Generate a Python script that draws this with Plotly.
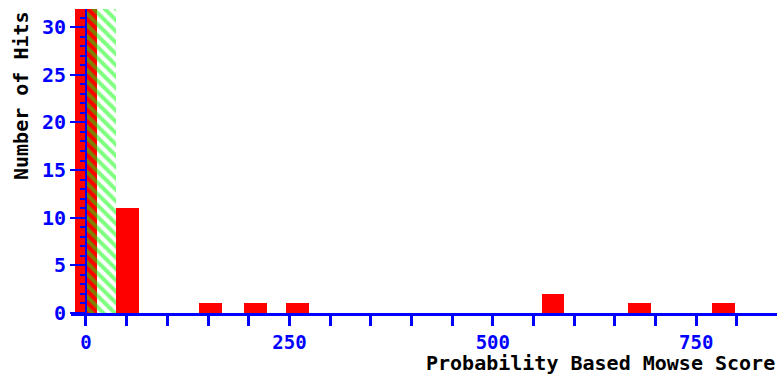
import plotly.graph_objects as go

# Histogram of peptide-match scores
bin_centers = [0, 51, 153, 208, 260, 574, 680, 783]
hit_counts = [40, 11, 1, 1, 1, 2, 1, 1]
bar_width = 28

# Shaded region for scores below the significance threshold
threshold = 37
y_max = 31.9

x_tick_vals = [0, 250, 500, 750]
x_tick_text = ["0", "250", "500", "750"]
y_tick_vals = [0, 5, 10, 15, 20, 25, 30]
y_tick_text = ["0", "5", "10", "15", "20", "25", "30"]

BLUE = "#0000ff"
RED = "#ff0000"
GREEN = "#00ff00"
FONT = "DejaVu Sans Mono"

fig = go.Figure()

fig.add_trace(go.Bar(
    x=bin_centers,
    y=hit_counts,
    width=bar_width,
    marker=dict(color=RED, line=dict(width=0)),
    hoverinfo="x+y",
))

fig.add_trace(go.Bar(
    x=[threshold / 2],
    y=[y_max],
    width=threshold,
    marker=dict(
        color="rgba(0,0,0,0)",
        line=dict(width=0),
        pattern=dict(shape="\\", fgcolor=GREEN, bgcolor="rgba(0,0,0,0)",
                     size=8, solidity=0.5),
    ),
    hoverinfo="skip",
))

fig.update_layout(
    width=777,
    height=375,
    margin=dict(l=71, r=0, t=9, b=62),
    paper_bgcolor="white",
    plot_bgcolor="white",
    barmode="overlay",
    bargap=0,
    showlegend=False,
    font=dict(family=FONT, size=20, color=BLUE, weight="bold"),
)

fig.update_xaxes(
    range=[-18.4, 849.2],
    domain=[0, 1],
    tickvals=x_tick_vals,
    ticktext=x_tick_text,
    ticks="outside",
    ticklen=10,
    tickwidth=3,
    tickcolor=BLUE,
    minor=dict(dtick=50, tick0=0, ticks="outside", ticklen=10, tickwidth=3, tickcolor=BLUE),
    showline=True,
    linecolor=BLUE,
    linewidth=3,
    showgrid=False,
    zeroline=False,
    tickfont=dict(family=FONT, size=19, color=BLUE, weight="bold"),
)

fig.update_yaxes(
    range=[0, y_max],
    anchor="free",
    position=15 / 706,
    tickvals=y_tick_vals,
    ticktext=y_tick_text,
    ticks="outside",
    ticklen=15,
    tickwidth=2,
    tickcolor=BLUE,
    minor=dict(dtick=1, tick0=0, ticks="outside", ticklen=5, tickwidth=2, tickcolor=BLUE),
    showline=True,
    linecolor=BLUE,
    linewidth=2,
    showgrid=False,
    zeroline=False,
    tickfont=dict(family=FONT, size=20, color=BLUE, weight="bold"),
)

fig.add_annotation(
    text="Number of Hits",
    textangle=-90,
    xref="paper", yref="paper",
    x=(21 - 71) / 706, y=(313 - 96) / 304,
    xanchor="center", yanchor="middle",
    showarrow=False,
    font=dict(family=FONT, size=20, color="black", weight="bold"),
)

fig.add_annotation(
    text="Probability Based Mowse Score",
    xref="paper", yref="paper",
    x=1, y=(313 - 363) / 304,
    xanchor="right", yanchor="middle",
    showarrow=False,
    font=dict(family=FONT, size=20, color="black", weight="bold"),
)

fig.write_html("out.html")
